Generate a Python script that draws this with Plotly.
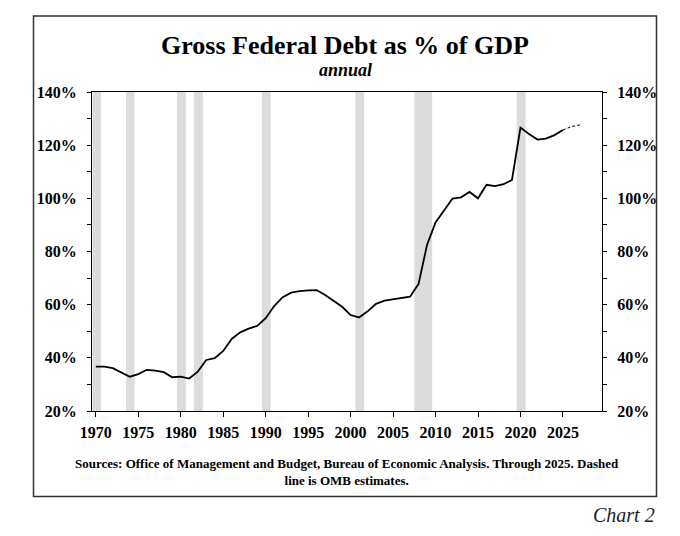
import plotly.graph_objects as go

# ---- data ----
years = list(range(1970, 2026))
debt = [36.7, 36.7, 36.1, 34.6, 32.9, 33.9, 35.5, 35.2, 34.6, 32.7,
        32.9, 32.2, 34.8, 39.2, 39.9, 42.6, 47.1, 49.6, 51.0, 52.0,
        54.9, 59.5, 62.8, 64.5, 65.1, 65.4, 65.5, 63.6, 61.5, 59.2,
        56.1, 55.2, 57.5, 60.3, 61.5, 62.0, 62.4, 63.0, 67.8, 82.5,
        90.9, 95.6, 99.9, 100.4, 102.4, 100.0, 105.1, 104.6, 105.3, 106.9,
        126.6, 124.2, 122.1, 122.5, 123.8, 125.7]
est_years = [2025, 2026, 2027]
est_debt = [125.7, 127.0, 127.6]
recession_start = [1969.6, 1973.55, 1979.55, 1981.55, 1989.55, 2000.55, 2007.5, 2019.55]
recession_end = [1970.6, 1974.55, 1980.6, 1982.6, 1990.6, 2001.6, 2009.6, 2020.6]
y_tickvals = [20, 40, 60, 80, 100, 120, 140]
y_ticktext = [f"{v}%" for v in y_tickvals]
x_tickvals = list(range(1970, 2026, 5))

FONT = "Liberation Serif"

fig = go.Figure()
fig.add_trace(go.Scatter(x=years, y=debt, mode="lines",
                         line=dict(color="black", width=1.8), showlegend=False, hoverinfo="skip"))
fig.add_trace(go.Scatter(x=est_years, y=est_debt, mode="lines",
                         line=dict(color="black", width=1, dash="3px,2px"), showlegend=False, hoverinfo="skip"))
# invisible trace for right axis
fig.add_trace(go.Scatter(x=years, y=debt, mode="lines", yaxis="y2",
                         line=dict(color="rgba(0,0,0,0)", width=0), showlegend=False, hoverinfo="skip"))

shapes = []
for s, e in zip(recession_start, recession_end):
    shapes.append(dict(type="rect", xref="x", yref="paper", x0=s, x1=e, y0=0, y1=1,
                       fillcolor="#dcdcdc", line=dict(width=0), layer="below"))

# outer frame (pixel -> paper conversion)
L, R, T, B = 92, 602, 92, 411
W, H = R - L, B - T
def px_x(p): return (p - L) / W
def px_y(p): return (B - p) / H
shapes.append(dict(type="rect", xref="paper", yref="paper",
                   x0=px_x(33.5), x1=px_x(656.5), y0=px_y(496.5), y1=px_y(16),
                   line=dict(color="#333333", width=1.5), fillcolor="rgba(0,0,0,0)"))

tickfont = dict(family=FONT, size=16, color="black", weight="bold")
yaxis_common = dict(range=[20, 140], tickvals=y_tickvals, ticktext=y_ticktext,
                    ticks="outside", ticklen=4, tickcolor="black", tickwidth=1,
                    showline=True, linecolor="black", linewidth=1, showgrid=False, zeroline=False,
                    tickfont=tickfont, ticklabelstandoff=7,
                    minor=dict(tickvals=[30, 50, 70, 90, 110, 130], ticks="outside", ticklen=4,
                               tickcolor="black", tickwidth=1, showgrid=False))

fig.update_layout(
    width=680, height=536,
    margin=dict(l=L, r=680 - R, t=T, b=536 - B),
    paper_bgcolor="white", plot_bgcolor="white",
    xaxis=dict(range=[1969.55, 2029.6], tickvals=x_tickvals, ticks="outside", ticklen=5,
               tickcolor="black", tickwidth=1, showline=True, linecolor="black", linewidth=1,
               mirror=True, showgrid=False, zeroline=False, tickfont=tickfont, ticklabelstandoff=2),
    yaxis=dict(side="left", **yaxis_common),
    yaxis2=dict(side="right", overlaying="y", **yaxis_common),
    shapes=shapes,
    annotations=[
        dict(text="<b>Gross Federal Debt as % of GDP</b>", xref="paper", yref="paper",
             x=px_x(345), y=px_y(46), xanchor="center", yanchor="middle", showarrow=False,
             font=dict(family=FONT, size=26, color="black")),
        dict(text="<b><i>annual</i></b>", xref="paper", yref="paper",
             x=px_x(345), y=px_y(70), xanchor="center", yanchor="middle", showarrow=False,
             font=dict(family=FONT, size=18, color="black")),
        dict(text="<b>Sources: Office of Management and Budget, Bureau of Economic Analysis. Through 2025. Dashed<br>line is OMB estimates.</b>",
             xref="paper", yref="paper", x=px_x(347), y=px_y(471.5), xanchor="center", yanchor="middle",
             showarrow=False, align="center", font=dict(family=FONT, size=13, color="black")),
        dict(text="<i>Chart 2</i>", xref="paper", yref="paper",
             x=px_x(657), y=px_y(515), xanchor="right", yanchor="middle", showarrow=False,
             font=dict(family=FONT, size=20, color="#222222")),
    ],
)

fig.write_html("out.html")
